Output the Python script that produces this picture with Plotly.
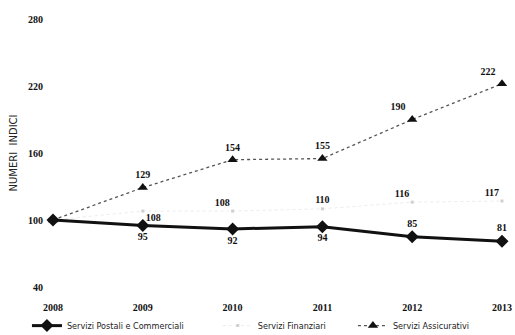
import plotly.graph_objects as go

years = [2008, 2009, 2010, 2011, 2012, 2013]
postali = [100, 95, 92, 94, 85, 81]
finanziari = [100, 108, 108, 110, 116, 117]
assicurativi = [100, 129, 154, 155, 190, 222]
y_ticks = [40, 100, 160, 220, 280]

NUM_FAMILY = "Liberation Serif"
num_font = dict(family=NUM_FAMILY, size=10, color="#111111", weight="bold")
tick_font = dict(family=NUM_FAMILY, size=10, color="#111111", weight="bold")

fig = go.Figure()

fig.add_trace(go.Scatter(
    x=years, y=finanziari, name="Servizi Finanziari",
    mode="lines+markers+text",
    line=dict(color="#ececec", width=1, dash="dot"),
    marker=dict(symbol="square", size=3, color="#d0d0d0"),
    text=["", "108", "108", "110", "116", "117"],
    textposition=["top center", "bottom right", "top left", "top center", "top left", "top left"],
    textfont=num_font,
    legend="legend2",
))

fig.add_trace(go.Scatter(
    x=years, y=assicurativi, name="Servizi Assicurativi",
    mode="lines+markers+text",
    line=dict(color="#555555", width=1.3, dash="dot"),
    marker=dict(symbol="triangle-up", size=9, color="#111111"),
    text=["", "129", "154", "155", "190", "222"],
    textposition=["top center", "top center", "top center", "top center", "top left", "top left"],
    textfont=num_font,
    legend="legend3",
))

fig.add_trace(go.Scatter(
    x=years, y=postali, name="Servizi Postali e Commerciali",
    mode="lines+markers+text",
    line=dict(color="#111111", width=3),
    marker=dict(symbol="diamond", size=10, color="#111111"),
    text=["", "95", "92", "94", "85", "81"],
    textposition=["bottom center", "bottom center", "bottom center", "bottom center", "top center", "top center"],
    textfont=num_font,
    legend="legend",
))

legend_common = dict(
    orientation="h", yref="container", yanchor="middle", y=0.028,
    xanchor="left", bgcolor="rgba(0,0,0,0)",
    font=dict(family="DejaVu Sans Condensed, Liberation Sans Narrow, sans-serif", size=9, color="#222222"),
)

fig.update_layout(
    template="none",
    width=515, height=335,
    margin=dict(l=53, r=13, t=19, b=48, autoexpand=False),
    paper_bgcolor="white", plot_bgcolor="white",
    showlegend=True,
    legend=dict(x=-0.058, **legend_common),
    legend2=dict(x=0.367, **legend_common),
    legend3=dict(x=0.668, **legend_common),
    xaxis=dict(
        range=[2008, 2013], tickvals=years, ticktext=[str(y) for y in years],
        showgrid=False, zeroline=False, showline=False, ticks="",
        tickfont=tick_font, ticklabelstandoff=13, automargin=False,
    ),
    yaxis=dict(
        range=[40, 280], tickvals=y_ticks,
        showgrid=False, zeroline=False, showline=False, ticks="",
        tickfont=tick_font, ticklabelstandoff=9, automargin=False,
        title=dict(text="NUMERI  INDICI", standoff=8,
                   font=dict(family="DejaVu Sans, sans-serif", size=10, color="#222222")),
    ),
)

fig.update_traces(cliponaxis=False)

fig.write_html("out.html")
